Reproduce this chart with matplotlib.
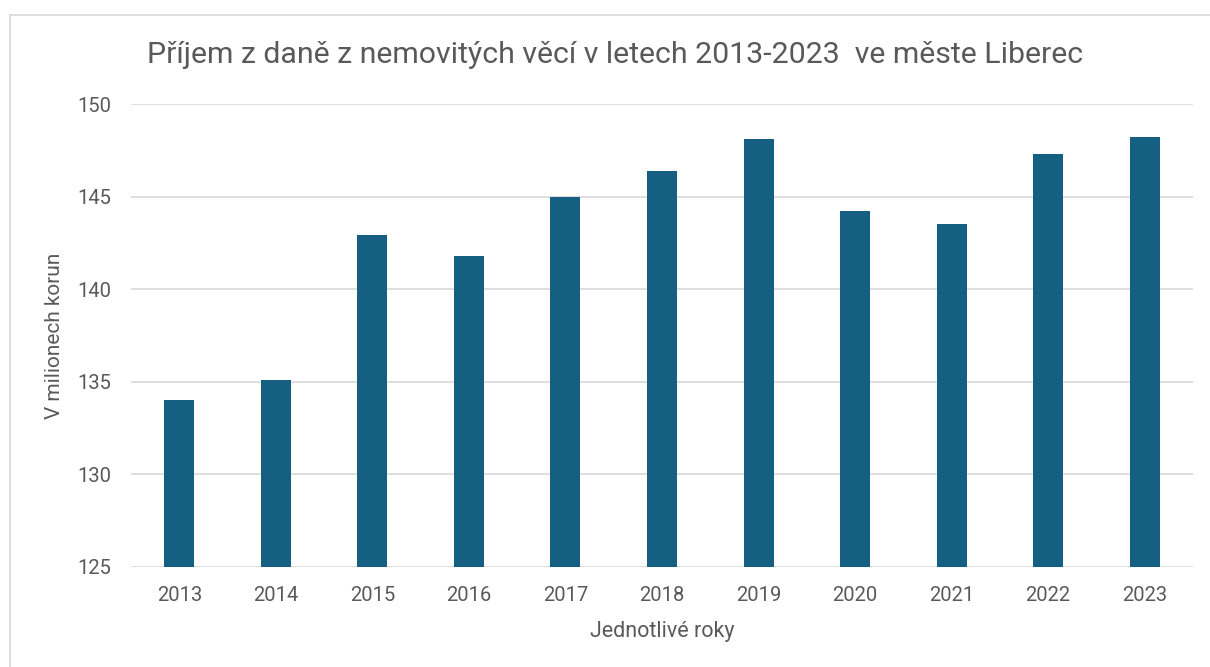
import matplotlib
matplotlib.use("Agg")
import matplotlib.pyplot as plt
from matplotlib.lines import Line2D

# data (millions CZK)
years = ["2013", "2014", "2015", "2016", "2017", "2018",
         "2019", "2020", "2021", "2022", "2023"]
income = [134.0, 135.1, 142.9, 141.8, 145.0, 146.4,
          148.1, 144.2, 143.5, 147.3, 148.2]
y_ticks = [125, 130, 135, 140, 145, 150]

title = "Příjem z daně z nemovitých věcí v letech 2013-2023  ve měste Liberec"
x_label = "Jednotlivé roky"
y_label = "V milionech korun"

bar_color = "#156082"
text_color = "#595959"
grid_color = "#d9d9d9"

plt.rcParams["font.family"] = ["Roboto", "DejaVu Sans"]

fig = plt.figure(figsize=(12.1, 6.67), dpi=100)
ax = fig.add_axes([131 / 1210, 1 - 567 / 667, 1062 / 1210, 463 / 667])

xs = list(range(len(years)))
ax.bar(xs, [v - y_ticks[0] for v in income], bottom=y_ticks[0],
       width=0.31, color=bar_color, zorder=3)

ax.set_xlim(-0.5, len(years) - 0.5)
ax.set_ylim(y_ticks[0], y_ticks[-1])
ax.set_yticks(y_ticks)
ax.set_xticks(xs)
ax.set_xticklabels(years)
ax.tick_params(axis="both", length=0, labelsize=14.5, colors=text_color)
ax.tick_params(axis="x", pad=14)
ax.tick_params(axis="y", pad=14)
ax.yaxis.grid(True, color=grid_color, linewidth=1.2, zorder=0)
for s in ax.spines.values():
    s.set_visible(False)

ax.set_xlabel(x_label, fontsize=15.5, color=text_color, labelpad=11)
ax.set_ylabel(y_label, fontsize=15, color=text_color, labelpad=10)

fig.text(615 / 1210, 1 - 55 / 667, title, ha="center", va="center",
         fontsize=21.8, color=text_color)

# light chart-area border (top and left visible in the reference)
fig.add_artist(Line2D([10 / 1210, 1], [1 - 14.5 / 667] * 2,
                      transform=fig.transFigure, color=grid_color, lw=1.2))
fig.add_artist(Line2D([10 / 1210] * 2, [0, 1 - 14.5 / 667],
                      transform=fig.transFigure, color=grid_color, lw=1.2))

fig.savefig("out.png", dpi=100, facecolor="white")
